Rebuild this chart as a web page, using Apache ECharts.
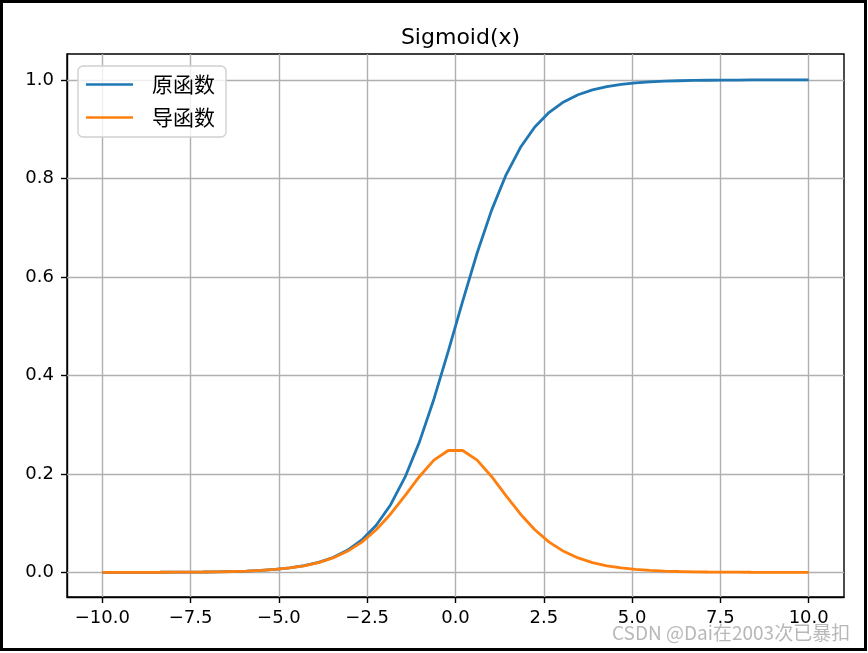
<!DOCTYPE html>
<html><head><meta charset="utf-8">
<script src="https://cdn.jsdelivr.net/npm/echarts@6/dist/echarts.min.js"></script>
<style>html,body{margin:0;padding:0;background:#fff}#c{width:868px;height:653px}</style>
</head><body><div id="c"></div>
<script>
const title = 'Sigmoid(x)';
const seriesNames = ['原函数', '导函数'];
const xValues = [-10, -9.5918, -9.1837, -8.7755, -8.3673, -7.9592, -7.5510, -7.1429, -6.7347, -6.3265,
  -5.9184, -5.5102, -5.1020, -4.6939, -4.2857, -3.8776, -3.4694, -3.0612, -2.6531, -2.2449,
  -1.8367, -1.4286, -1.0204, -0.6122, -0.2041, 0.2041, 0.6122, 1.0204, 1.4286, 1.8367,
  2.2449, 2.6531, 3.0612, 3.4694, 3.8776, 4.2857, 4.6939, 5.1020, 5.5102, 5.9184,
  6.3265, 6.7347, 7.1429, 7.5510, 7.9592, 8.3673, 8.7755, 9.1837, 9.5918, 10];
const sigmoidValues = [0.00005, 0.00007, 0.0001, 0.00015, 0.00023, 0.00035, 0.00053, 0.00079, 0.00119, 0.00179,
  0.00268, 0.00403, 0.00605, 0.00907, 0.01358, 0.02028, 0.0302, 0.04474, 0.0658, 0.09579,
  0.13744, 0.19331, 0.26495, 0.35159, 0.4492, 0.5508, 0.64841, 0.73505, 0.80669, 0.86256,
  0.90421, 0.9342, 0.95526, 0.9698, 0.97972, 0.98642, 0.99093, 0.99395, 0.99597, 0.99732,
  0.99821, 0.99881, 0.99921, 0.99947, 0.99965, 0.99977, 0.99985, 0.9999, 0.99993, 0.99995];
const derivativeValues = [0.00005, 0.00007, 0.0001, 0.00015, 0.00023, 0.00035, 0.00053, 0.00079, 0.00119, 0.00178,
  0.00268, 0.00401, 0.00601, 0.00899, 0.01339, 0.01987, 0.02928, 0.04274, 0.06147, 0.08662,
  0.11855, 0.15594, 0.19475, 0.22797, 0.24742, 0.24742, 0.22797, 0.19475, 0.15594, 0.11855,
  0.08662, 0.06147, 0.04274, 0.02928, 0.01987, 0.01339, 0.00899, 0.00601, 0.00401, 0.00268,
  0.00178, 0.00119, 0.00079, 0.00053, 0.00035, 0.00023, 0.00015, 0.0001, 0.00007, 0.00005];
const xTicks = [-10, -7.5, -5, -2.5, 0, 2.5, 5, 7.5, 10];
const yTicks = [0, 0.2, 0.4, 0.6, 0.8, 1.0];
const watermark = 'CSDN @Dai在2003次已暴扣';

const fmt = v => v.toFixed(1).replace('-', '\u2212');
const font = 'DejaVu Sans';
const gridLine = {color: '#b0b0b0', width: 1.4, type: 'solid'};
const spine = {color: '#000', width: 1.4};

const chart = echarts.init(document.getElementById('c'), null, {renderer: 'canvas'});
chart.setOption({
  animation: false,
  backgroundColor: '#fff',
  textStyle: {fontFamily: font},
  title: {text: title, left: 455.5, textAlign: 'center', top: 21,
    textStyle: {fontFamily: font, fontSize: 22, fontWeight: 'normal', color: '#000', lineHeight: 25}},
  grid: {left: 67, right: 24, top: 54, bottom: 56, show: true, borderColor: '#000', borderWidth: 1.4, backgroundColor: 'transparent'},
  legend: {
    orient: 'vertical', left: 78, top: 66, data: seriesNames,
    icon: 'rect', itemWidth: 47, itemHeight: 2.6, itemGap: 12,
    padding: [8, 11, 9, 8],
    backgroundColor: 'rgba(255,255,255,0.8)', borderColor: '#d0d0d0', borderWidth: 1.4, borderRadius: 5,
    textStyle: {fontFamily: 'Noto Sans CJK SC', fontSize: 21, lineHeight: 21, color: '#000', padding: [0, 0, 0, 14]}
  },
  xAxis: {
    type: 'value', min: -11, max: 11,
    axisLine: {show: true, onZero: false, lineStyle: spine},
    axisTick: {show: true, length: 6, lineStyle: {color: '#000', width: 1.4}, customValues: xTicks},
    axisLabel: {customValues: xTicks, formatter: fmt, color: '#000', fontSize: 18, fontFamily: font, margin: 12},
    splitLine: {show: false}
  },
  yAxis: {
    type: 'value', min: -0.05, max: 1.0525,
    axisLine: {show: true, onZero: false, lineStyle: spine},
    axisTick: {show: true, length: 6, lineStyle: {color: '#000', width: 1.4}, customValues: yTicks},
    axisLabel: {customValues: yTicks, formatter: fmt, color: '#000', fontSize: 18, fontFamily: font, margin: 13},
    splitLine: {show: false}
  },
  series: [
    {name: 'grid', type: 'line', data: [], z: 1, silent: true,
      markLine: {silent: true, z: 1, symbol: 'none', label: {show: false}, animation: false,
        lineStyle: gridLine, emphasis: {disabled: true},
        data: xTicks.map(v => ({xAxis: v})).concat(yTicks.map(v => ({yAxis: v})))}},
    {name: seriesNames[0], type: 'line', data: xValues.map((x, i) => [x, sigmoidValues[i]]),
      showSymbol: false, lineStyle: {color: '#1f77b4', width: 2.8}, itemStyle: {color: '#1f77b4'}, z: 3},
    {name: seriesNames[1], type: 'line', data: xValues.map((x, i) => [x, derivativeValues[i]]),
      showSymbol: false, lineStyle: {color: '#ff7f0e', width: 2.8}, itemStyle: {color: '#ff7f0e'}, z: 4}
  ],
  graphic: [
    {type: 'rect', shape: {x: 1.5, y: 1.5, width: 864, height: 648}, style: {fill: null, stroke: '#000', lineWidth: 3}, silent: true},
    {type: 'text', left: 612, top: 623, style: {text: watermark, fill: 'rgba(160,160,160,0.75)', font: '19px "Noto Sans CJK SC"'}, silent: true}
  ]
});
</script></body></html>
